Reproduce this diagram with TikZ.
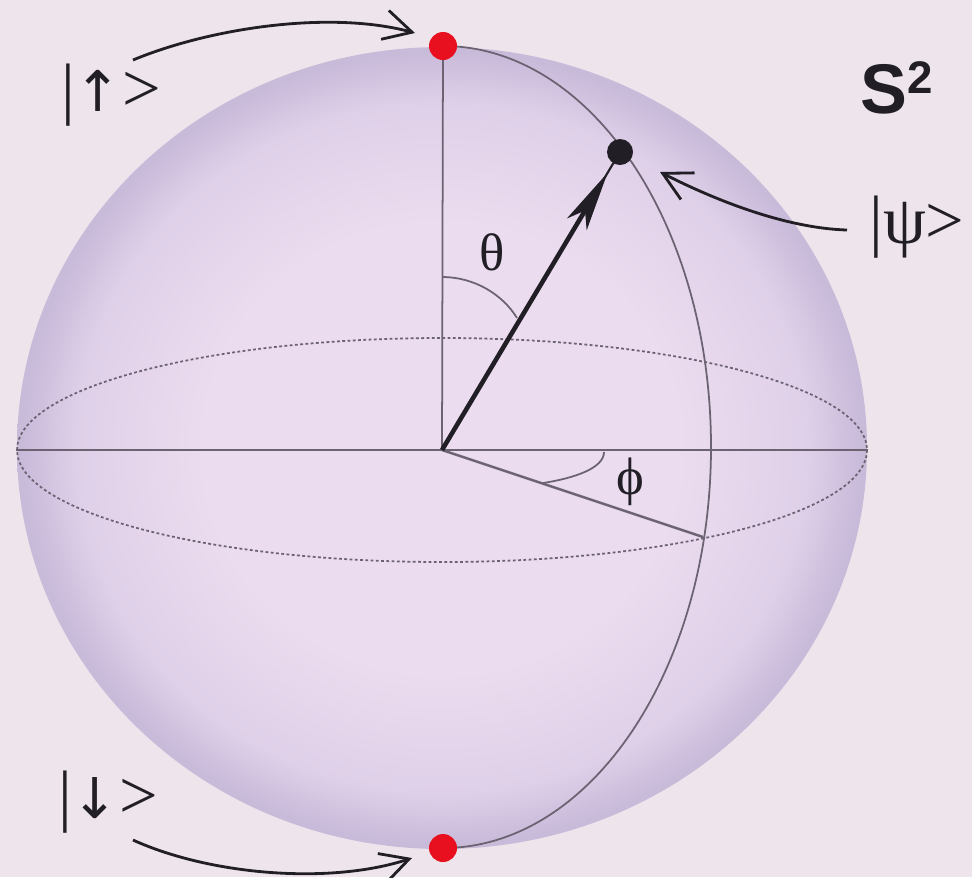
\documentclass[tikz,border=0pt]{standalone}
\usepackage{fontspec}
\setmainfont{Liberation Serif}
\newfontfamily\labelsans{Liberation Sans}
\newfontfamily\arrowfont{DejaVu Sans}
\usetikzlibrary{arrows.meta, positioning, calc}
\definecolor{bgpink}{HTML}{EEE4EC}
\definecolor{sphlight}{HTML}{EBDCEF}
\definecolor{sphmid}{HTML}{DFD0E9}
\definecolor{sphdark}{HTML}{C8BAD9}
\definecolor{meshgrey}{HTML}{6B6272}
\definecolor{inkdark}{HTML}{211E25}
\definecolor{polered}{HTML}{E8101E}
\pgfdeclareradialshading{spherebody}{\pgfpoint{0bp}{0bp}}{color(0bp)=(sphlight); color(14bp)=(sphlight); color(21.5bp)=(sphmid); color(24.7bp)=(sphdark); color(25bp)=(sphdark); color(50bp)=(sphdark)}
\tikzset{
  meshline/.style={meshgrey, line width=1pt},
  pointer/.style={inkdark, line width=1.6pt,
    -{Straight Barb[length=16pt, width=17pt, line width=1.6pt]}},
  ketlabel/.style={inkdark, font=\fontsize{39}{44}\selectfont, inner sep=0pt},
  anglabel/.style={inkdark, font=\fontsize{30}{34}\selectfont, inner sep=0pt},
  poledot/.style={circle, fill=polered, minimum size=28*0.02cm, inner sep=0pt},
}
\begin{document}
\begin{tikzpicture}[x=0.02cm, y=-0.02cm]
    \useasboundingbox (0,0) rectangle (972,877);
    \fill[bgpink] (0,0) rectangle (972,877);
    % Sphere
    \coordinate (O) at (442,450);
    \coordinate (north) at (443,46);
    \coordinate (south) at (443,848);
    \coordinate (west) at (16,450);
    \coordinate (east) at (868,450);
    \coordinate (eqfront) at (703,537);
    \coordinate (psi) at (620,152);
    \shade[shading=spherebody] (442,448) ellipse[x radius=425, y radius=401];
    % Equator and axes
    \draw[meshline, dash pattern=on 1.6pt off 1.4pt] (O) ellipse[x radius=425, y radius=112];
    \draw[meshline] (west) -- (east);
    \draw[meshline] (north) -- (O);
    \draw[meshline] (north) arc[start angle=-90, end angle=90, x radius=268, y radius=401];
    \draw[meshline, line width=1.4pt] (O) -- (eqfront);
    % Angles
    \draw[meshline] (442,277) .. controls (475,277) and (503,295) .. (517,318);
    \draw[meshline] (604,452) .. controls (604,468) and (575,478) .. (543,483);
    \node[anglabel] (theta) at (492,252) {θ};
    \node[anglabel] (phi) at (630,482) {ϕ};
    % State vector
    \draw[inkdark, line width=2.6pt, -{Stealth[length=34pt, width=13pt, inset=9pt]}]
         (O) -- ($(O)!0.93!(psi)$);
    \draw[inkdark, line width=1.2pt] ($(O)!0.9!(psi)$) -- (psi);
    \node[circle, fill=inkdark, minimum size=26*0.02cm, inner sep=0pt] (psidot) at (psi) {};
    % Poles
    \node[poledot] (northdot) at (north) {};
    \node[poledot] (southdot) at (south) {};
    % Labels
    \node[ketlabel] (upket) at (111,95) {|{\arrowfont\fontsize{32}{40}\selectfont ↑}>};
    \node[ketlabel] (downket) at (108,802) {|{\arrowfont\fontsize{32}{40}\selectfont ↓}>};
    \node[ketlabel] (psiket) at (917,227) {|ψ>};
    \node[inkdark, inner sep=0pt, font=\labelsans\bfseries\fontsize{40}{44}\selectfont]
         (sphname) at (897,88) {S{\fontsize{26}{28}\selectfont\raisebox{11pt}{2}}};
    % Pointers
    \coordinate (uptail) at (133,60);
    \coordinate (uphead) at (415,33);
    \coordinate (downtail) at (133,840);
    \coordinate (downhead) at (412,858);
    \coordinate (psitail) at (847,230);
    \coordinate (psihead) at (660,172);
    \draw[pointer] (uptail) .. controls (210,28) and (330,10) .. (uphead);
    \draw[pointer] (downtail) .. controls (210,875) and (330,885) .. (downhead);
    \draw[pointer] (psitail) .. controls (780,228) and (705,195) .. (psihead);
\end{tikzpicture}
\end{document}
